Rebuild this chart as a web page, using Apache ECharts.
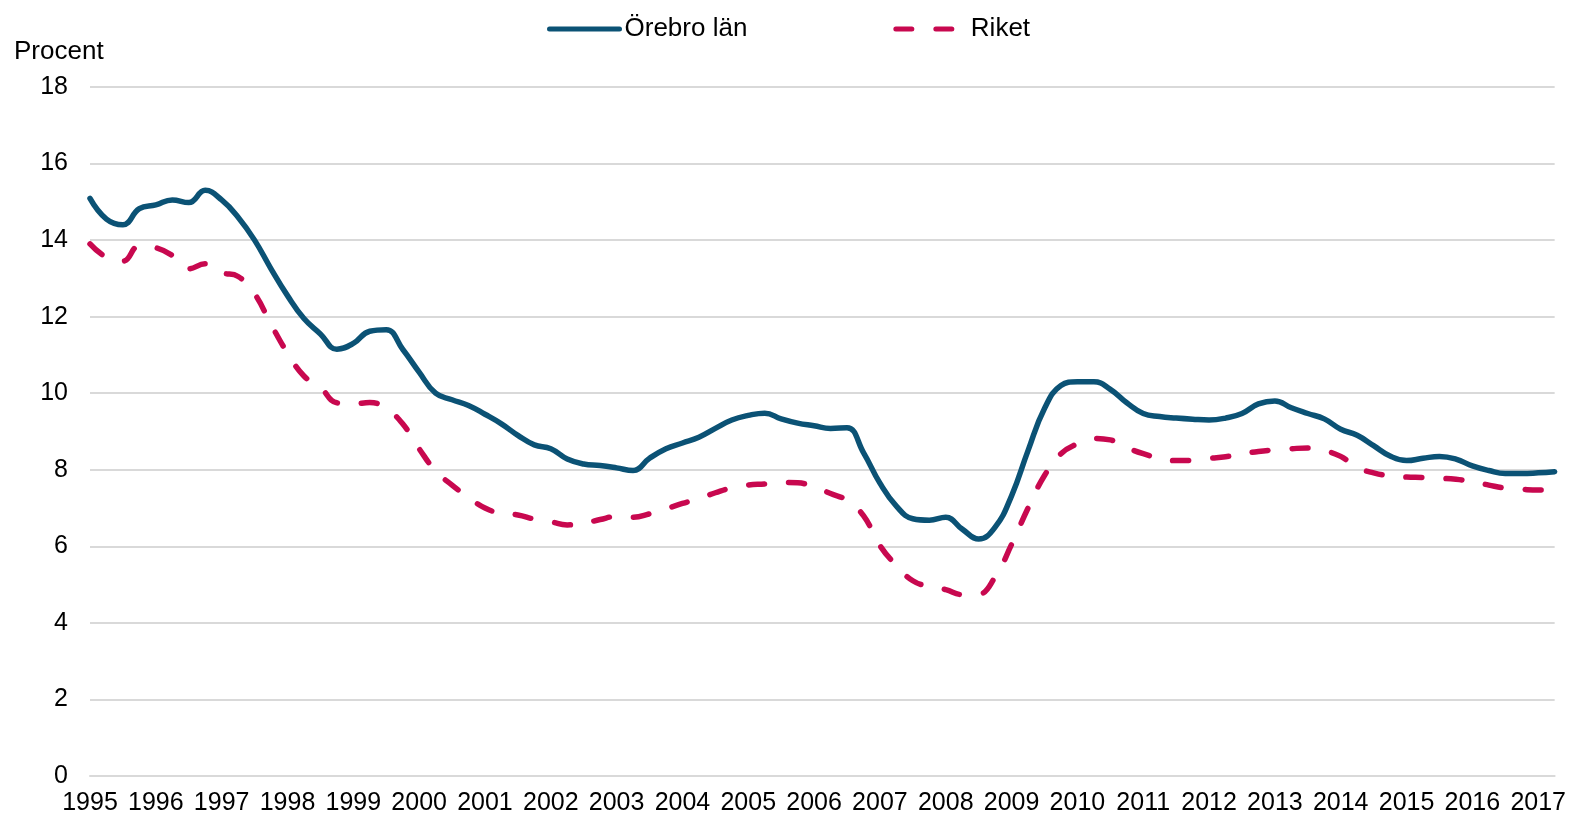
<!DOCTYPE html>
<html>
<head>
<meta charset="utf-8">
<script src="https://cdn.jsdelivr.net/npm/echarts@6/dist/echarts.min.js"></script>
<style>
  html, body { margin: 0; padding: 0; background: #fff; }
  #chart { width: 1569px; height: 818px; }
</style>
</head>
<body>
<div id="chart"></div>
<script>
// tick labels (one per year, first quarter)
const years = ['1995', '1996', '1997', '1998', '1999', '2000', '2001', '2002', '2003', '2004', '2005', '2006',
  '2007', '2008', '2009', '2010', '2011', '2012', '2013', '2014', '2015', '2016', '2017']

// quarterly values, 1995 K1 - 2017 K2
const orebro = [
  15.09, 14.55, 14.40, 14.82, 14.92, 15.05, 14.98, 15.30, 15.05, 14.60,
  14.00, 13.25, 12.55, 11.95, 11.55, 11.15, 11.30, 11.62, 11.66, 11.15,
  10.55, 10.00, 9.83, 9.68, 9.45, 9.20, 8.90, 8.65, 8.55, 8.28,
  8.15, 8.11, 8.05, 7.98, 8.30, 8.55, 8.70, 8.85, 9.08, 9.30,
  9.42, 9.48, 9.33, 9.22, 9.15, 9.08, 9.10, 8.45, 7.65, 7.05,
  6.72, 6.68, 6.76, 6.45, 6.19, 6.50, 7.32, 8.50, 9.60, 10.20,
  10.30, 10.30, 10.10, 9.75, 9.47, 9.39, 9.35, 9.32, 9.30, 9.35,
  9.47, 9.72, 9.80, 9.62, 9.47, 9.33, 9.06, 8.90, 8.63, 8.36,
  8.24, 8.30, 8.35, 8.28, 8.10, 7.98, 7.90, 7.90, 7.92, 7.95
]
const riket = [
  13.90, 13.55, 13.45, 13.85, 13.80, 13.60, 13.25, 13.38, 13.15, 13.05,
  12.60, 11.80, 11.05, 10.45, 10.15, 9.75, 9.72, 9.76, 9.60, 9.20,
  8.55, 7.97, 7.60, 7.28, 7.00, 6.86, 6.82, 6.71, 6.64, 6.56,
  6.60, 6.70, 6.78, 6.76, 6.85, 6.98, 7.12, 7.25, 7.40, 7.53,
  7.60, 7.63, 7.67, 7.66, 7.55, 7.38, 7.20, 6.80, 6.02, 5.50,
  5.10, 4.95, 4.87, 4.74, 4.75, 5.20, 6.05, 7.00, 7.85, 8.42,
  8.68, 8.82, 8.78, 8.58, 8.42, 8.30, 8.24, 8.25, 8.30, 8.34,
  8.41, 8.48, 8.52, 8.55, 8.57, 8.50, 8.35, 8.06, 7.92, 7.84,
  7.81, 7.80, 7.78, 7.75, 7.69, 7.60, 7.52, 7.49, 7.47, 7.47
]

const categories = []
years.forEach(y => {
  ['K1', 'K2', 'K3', 'K4'].forEach(q => {
    if (categories.length < orebro.length) categories.push(y + ' ' + q)
  })
})

const chart = echarts.init(document.getElementById('chart'))

const font = 'Liberation Sans, Arial, sans-serif'

chart.setOption({
  animation: false,
  textStyle: { fontFamily: font, color: '#000' },
  title: {
    text: 'Procent',
    left: 9,
    top: 34,
    textStyle: { fontFamily: font, fontSize: 26, fontWeight: 'normal', color: '#000' }
  },
  legend: {
    top: 11,
    left: 542,
    itemWidth: 70,
    itemHeight: 14,
    itemGap: 146,
    itemStyle: { opacity: 0 },
    lineStyle: { width: 5, cap: 'round' },
    textStyle: { fontFamily: font, fontSize: 26, color: '#000' },
    data: ['Örebro län', 'Riket']
  },
  grid: {
    left: 90,
    right: 14,
    top: 87,
    bottom: 42
  },
  xAxis: {
    type: 'category',
    boundaryGap: false,
    data: categories,
    axisLine: { lineStyle: { color: '#d9d9d9', width: 2 } },
    axisTick: { show: false },
    axisLabel: {
      interval: 3,
      margin: 15,
      fontSize: 25,
      color: '#000',
      fontFamily: font,
      formatter: v => v.slice(0, 4)
    }
  },
  yAxis: {
    type: 'value',
    min: 0,
    max: 18,
    interval: 2,
    axisLine: { show: false },
    axisTick: { show: false },
    axisLabel: { fontSize: 25, color: '#000', fontFamily: font, margin: 22 },
    splitLine: { lineStyle: { color: '#d9d9d9', width: 2 } }
  },
  series: [
    {
      name: 'Örebro län',
      type: 'line',
      data: orebro,
      smooth: 0.45,
      symbol: 'none',
      itemStyle: { color: '#0b5275' },
      lineStyle: { color: '#0b5275', width: 5.5, cap: 'round', join: 'round' }
    },
    {
      name: 'Riket',
      type: 'line',
      data: riket,
      smooth: 0.45,
      symbol: 'none',
      itemStyle: { color: '#c8084f' },
      lineStyle: { color: '#c8084f', width: 5.5, type: [16, 24], cap: 'round', join: 'round' }
    }
  ]
})

window.addEventListener('resize', () => chart.resize())
</script>
</body>
</html>
